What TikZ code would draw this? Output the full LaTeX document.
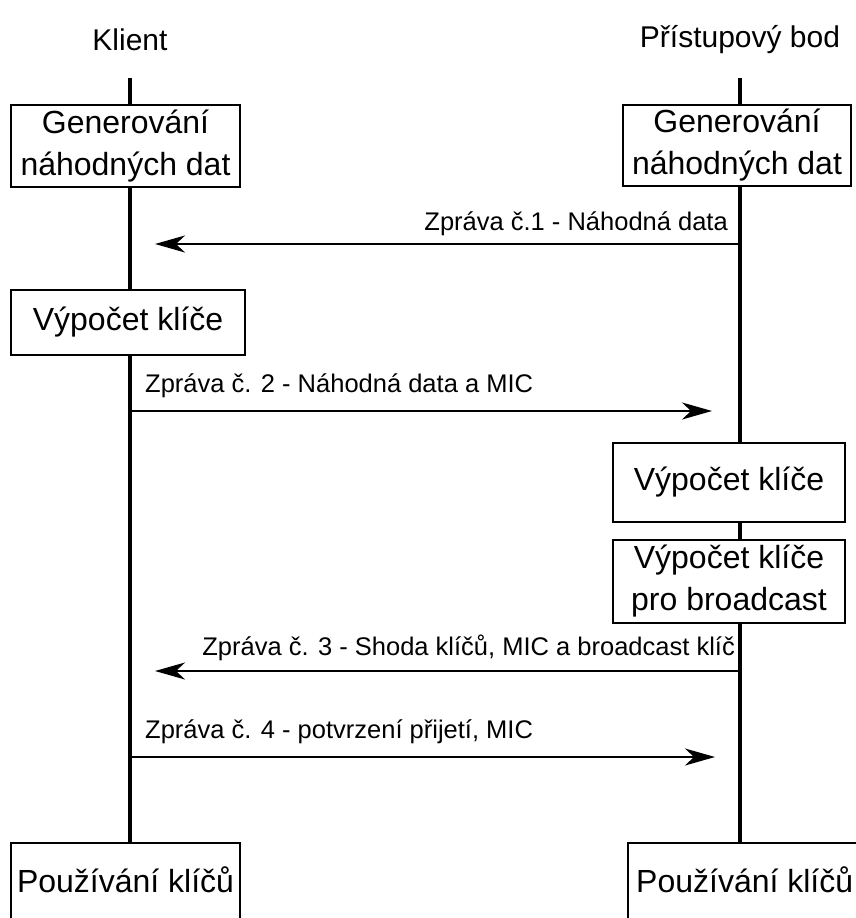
\documentclass[tikz,border=0pt]{standalone}
\usepackage{fontspec}
\setmainfont{Liberation Sans}
\usetikzlibrary{arrows.meta, positioning, backgrounds}

\tikzset{
  party/.style={font=\fontsize{30}{34}\selectfont, inner sep=0pt},
  stepbox/.style={draw, line width=1.7pt, fill=white, align=center,
                  font=\fontsize{32}{42}\selectfont, inner sep=0pt},
  msg/.style={-{Stealth[length=30pt, width=17pt, inset=9pt]}, line width=2pt},
  msglabel/.style={font=\fontsize{25.5}{30}\selectfont, inner sep=0pt},
  lifeline/.style={line width=4pt}
}

\begin{document}
\begin{tikzpicture}[x=1pt, y=-1pt]
  \useasboundingbox (0,0) rectangle (856,918);
  \clip (0,0) rectangle (856,918);

  % participants
  \node[party] (klient) at (130,40) {Klient};
  \node[party] (ap) at (740,40) {Přístupový bod};
  \coordinate (kltop) at (130,78);
  \coordinate (aptop) at (740,78);

  % client side
  \node[stepbox, minimum width=229pt, minimum height=82pt] (klgen) at (125.5,146) {Generování\\náhodných dat};
  \node[stepbox, minimum width=234pt, minimum height=65pt] (klvyp) at (128,322.5) {Výpočet klíče};
  \node[stepbox, minimum width=229pt, minimum height=150pt] (klpouz) at (125.5,918) {};
  \node[font=\fontsize{32}{42}\selectfont, inner sep=0pt] at (125.5,880) {Používání klíčů};

  % access point side
  \node[stepbox, minimum width=228pt, minimum height=81pt] (apgen) at (737,145.5) {Generování\\náhodných dat};
  \node[stepbox, minimum width=232pt, minimum height=79pt] (apvyp) at (729,482.5) {Výpočet klíče};
  \node[stepbox, minimum width=232pt, minimum height=83pt] (apbc) at (729,581.5) {Výpočet klíče\\pro broadcast};
  \node[stepbox, minimum width=260pt, minimum height=150pt] (appouz) at (758,918) {};
  \node[font=\fontsize{32}{42}\selectfont, inner sep=0pt, anchor=west] at (636,880) {Používání klíčů};

  % lifelines
  \begin{scope}[on background layer]
    \draw[lifeline] (kltop) -- (kltop |- klpouz.north);
    \draw[lifeline] (aptop) -- (aptop |- appouz.north);
  \end{scope}

  % messages
  \coordinate (m1s) at (740,244);  \coordinate (m1e) at (155,244);
  \coordinate (m2s) at (130,411);  \coordinate (m2e) at (712,411);
  \coordinate (m3s) at (740,671);  \coordinate (m3e) at (155,671);
  \coordinate (m4s) at (130,757);  \coordinate (m4e) at (715,757);

  \draw[msg] (m1s) -- (m1e);
  \draw[msg] (m2s) -- (m2e);
  \draw[msg] (m3s) -- (m3e);
  \draw[msg] (m4s) -- (m4e);

  \node[msglabel, anchor=east] (l1) at (728,224) {Zpráva č.1 - Náhodná data};
  \node[msglabel, anchor=west] (l2) at (145,386) {Zpráva č. 2 - Náhodná data a MIC};
  \node[msglabel, anchor=east] (l3) at (735,648) {Zpráva č. 3 - Shoda klíčů, MIC a broadcast klíč};
  \node[msglabel, anchor=west] (l4) at (145,732) {Zpráva č. 4 - potvrzení přijetí, MIC};
\end{tikzpicture}
\end{document}
